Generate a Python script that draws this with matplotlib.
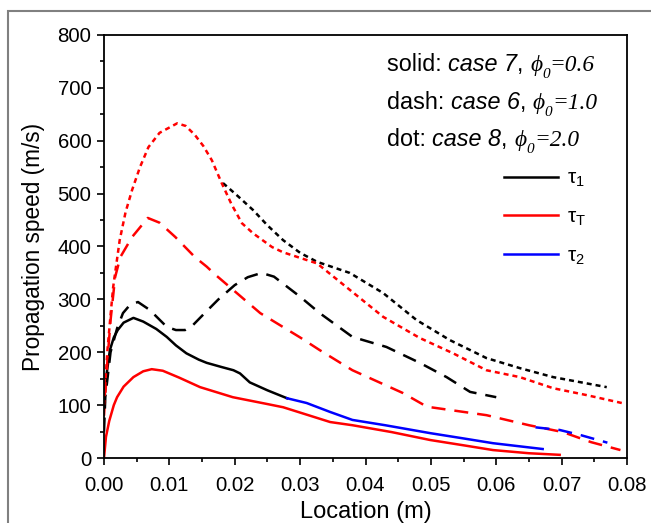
import matplotlib
matplotlib.use("Agg")
import matplotlib.pyplot as plt
from matplotlib.patches import Rectangle
from matplotlib.lines import Line2D
from matplotlib.ticker import MultipleLocator, FormatStrFormatter

plt.rcParams['font.family'] = ['Liberation Sans', 'DejaVu Sans']
plt.rcParams['mathtext.fontset'] = 'custom'
plt.rcParams['mathtext.rm'] = 'Liberation Sans'
plt.rcParams['mathtext.it'] = 'Liberation Sans:italic'

# ---- data ----
# case 7 (solid)
c7_tau1_x = [0, 0.0003, 0.0009, 0.0015, 0.0021, 0.003, 0.0045, 0.006, 0.008, 0.0096, 0.011,
             0.0126, 0.0145, 0.0157, 0.018, 0.0198, 0.0208, 0.0223, 0.025, 0.028]
c7_tau1_y = [100, 150, 204, 228, 242, 256, 265, 258, 244, 229, 213, 198, 186, 180, 172, 166,
             160, 143, 128, 113]
c7_tau2_x = [0.028, 0.031, 0.0346, 0.038, 0.043, 0.0499, 0.055, 0.0595, 0.0671]
c7_tau2_y = [113, 104, 87, 72, 62, 47, 37, 28, 17]
c7_tauT_x = [0, 0.0003, 0.0008, 0.0015, 0.002, 0.003, 0.0045, 0.006, 0.0073, 0.009, 0.0115,
             0.0147, 0.0197, 0.025, 0.0274, 0.031, 0.0346, 0.038, 0.044, 0.0499, 0.055, 0.0595,
             0.065, 0.0697]
c7_tauT_y = [0, 40, 70, 100, 115, 135, 153, 164, 168, 165, 152, 134, 115, 102, 96, 82, 68, 62,
             49, 34, 24, 15, 9, 6]

# case 6 (dash)
c6_tau1_x = [0, 0.0002, 0.001, 0.002, 0.0029, 0.004, 0.0052, 0.007, 0.0096, 0.011, 0.0124,
             0.0135, 0.0154, 0.0175, 0.02, 0.022, 0.0241, 0.026, 0.03, 0.033, 0.038, 0.0432,
             0.0483, 0.0524, 0.056, 0.060]
c6_tau1_y = [50, 115, 200, 245, 274, 290, 295, 280, 248, 242, 242, 250, 274, 300, 327, 342,
             350, 343, 305, 274, 229, 210, 180, 153, 125, 115]
c6_tauT_x = [0, 0.0005, 0.001, 0.0017, 0.0025, 0.0043, 0.0067, 0.0085, 0.0109, 0.0139, 0.0157,
             0.017, 0.0239, 0.03, 0.033, 0.038, 0.0457, 0.0494, 0.0585, 0.065, 0.0702, 0.0745,
             0.079]
c6_tauT_y = [80, 180, 260, 342, 380, 418, 454, 445, 418, 380, 362, 347, 274, 228, 204, 166,
             123, 97, 81, 62, 49, 30, 15]
c6_tau2_x = [0.066, 0.0697, 0.073, 0.077]
c6_tau2_y = [58, 53, 43, 29]

# case 8 (dot)
c8_tauT_x = [0, 0.0005, 0.001, 0.0014, 0.0024, 0.0033, 0.0043, 0.0055, 0.0068, 0.0085, 0.0112,
             0.0125, 0.0139, 0.0152, 0.0165, 0.018, 0.0195, 0.0211, 0.0228, 0.0257, 0.0274,
             0.0326, 0.0376, 0.0427, 0.0483, 0.0534, 0.0585, 0.0636, 0.0687, 0.0738, 0.0792]
c8_tauT_y = [100, 200, 270, 323, 412, 465, 507, 550, 588, 615, 633, 628, 611, 590, 563, 520,
             480, 444, 425, 399, 389, 368, 318, 267, 227, 198, 166, 153, 132, 119, 104]
c8_tau1_x = [0.0182, 0.0205, 0.0228, 0.025, 0.0274, 0.03, 0.0326, 0.0376, 0.0427, 0.0478,
             0.0529, 0.0585, 0.0636, 0.0687, 0.0769]
c8_tau1_y = [520, 495, 469, 440, 412, 388, 371, 350, 312, 261, 223, 189, 170, 153, 134]

legend_labels = ['\u03c4$_1$', '\u03c4$_\\mathrm{T}$', '\u03c4$_2$']
annot_lines = [
    ("solid: ", "case 7", "=0.6"),
    ("dash: ", "case 6", "=1.0"),
    ("dot: ", "case 8", "=2.0"),
]

# ---- figure ----
W, H = 651, 523
fig = plt.figure(figsize=(W / 100, H / 100), dpi=100)
ax = fig.add_axes([104 / W, 1 - 458 / H, 523 / W, 423 / H])

LW = 1.8
DOT = (2.0, 1.6)
DASH = (5.6, 3.6)

ax.plot(c7_tauT_x, c7_tauT_y, color='red', lw=LW)
ax.plot(c7_tau1_x, c7_tau1_y, color='black', lw=LW)
ax.plot(c7_tau2_x, c7_tau2_y, color='blue', lw=LW)

ax.plot(c6_tauT_x, c6_tauT_y, color='red', lw=LW, dashes=DASH)
ax.plot(c6_tau1_x, c6_tau1_y, color='black', lw=LW, dashes=DASH)
ax.plot(c6_tau2_x, c6_tau2_y, color='blue', lw=LW, dashes=DASH)

ax.plot(c8_tau1_x, c8_tau1_y, color='black', lw=LW, dashes=DOT)
ax.plot(c8_tauT_x, c8_tauT_y, color='red', lw=LW, dashes=DOT)

ax.set_xlim(0, 0.08)
ax.set_ylim(0, 800)
ax.xaxis.set_major_locator(MultipleLocator(0.01))
ax.xaxis.set_minor_locator(MultipleLocator(0.005))
ax.yaxis.set_major_locator(MultipleLocator(100))
ax.yaxis.set_minor_locator(MultipleLocator(50))
ax.xaxis.set_major_formatter(FormatStrFormatter('%.2f'))
ax.tick_params(which='major', direction='out', length=5, width=1.2, labelsize=14.7)
ax.tick_params(axis='x', which='major', pad=8)
ax.tick_params(axis='y', which='major', pad=4)
ax.tick_params(which='minor', direction='out', length=3, width=1.2)
for s in ax.spines.values():
    s.set_linewidth(1.3)

ax.set_xlabel('Location (m)', fontsize=17, labelpad=4)
ax.set_ylabel('Propagation speed (m/s)', fontsize=16.3, labelpad=9)

handles = [Line2D([], [], color=c, lw=LW) for c in ('black', 'red', 'blue')]
ax.legend(handles, legend_labels, loc='upper left', bbox_to_anchor=(0.764, 0.683),
          frameon=False, fontsize=15, handlelength=2.6, handletextpad=0.45,
          labelspacing=0.88, borderpad=0, borderaxespad=0)

# ---- rich text annotation ----
fig.canvas.draw()
renderer = fig.canvas.get_renderer()
FS = 16.8
SERIF = ['Liberation Serif', 'DejaVu Serif']


def put(x_px, y_px, s, **kw):
    t = fig.text(x_px / W, 1 - y_px / H, s, va='baseline', ha='left', **kw)
    bb = t.get_window_extent(renderer)
    return x_px + bb.width


baselines = [71, 109, 146]
for (a, b, c), yb in zip(annot_lines, baselines):
    x = 387
    x = put(x, yb, a, fontsize=FS, family='Liberation Sans')
    x = put(x, yb, b, fontsize=FS, family='Liberation Sans', style='italic')
    x = put(x, yb, ", ", fontsize=FS, family='Liberation Sans')
    x = put(x, yb, "\u03d5", fontsize=FS, family=SERIF, style='italic')
    x2 = put(x, yb + 7, "0", fontsize=11, family=SERIF, style='italic')
    x = put(x2, yb, c, fontsize=FS, family=SERIF, style='italic')

# outer gray frame
fig.patches.append(Rectangle((8 / W, -0.05), 1.0, (1 - 11 / H) + 0.05, transform=fig.transFigure,
                             fill=False, edgecolor='#808080', lw=1.5))

fig.savefig('out.png', dpi=100)
